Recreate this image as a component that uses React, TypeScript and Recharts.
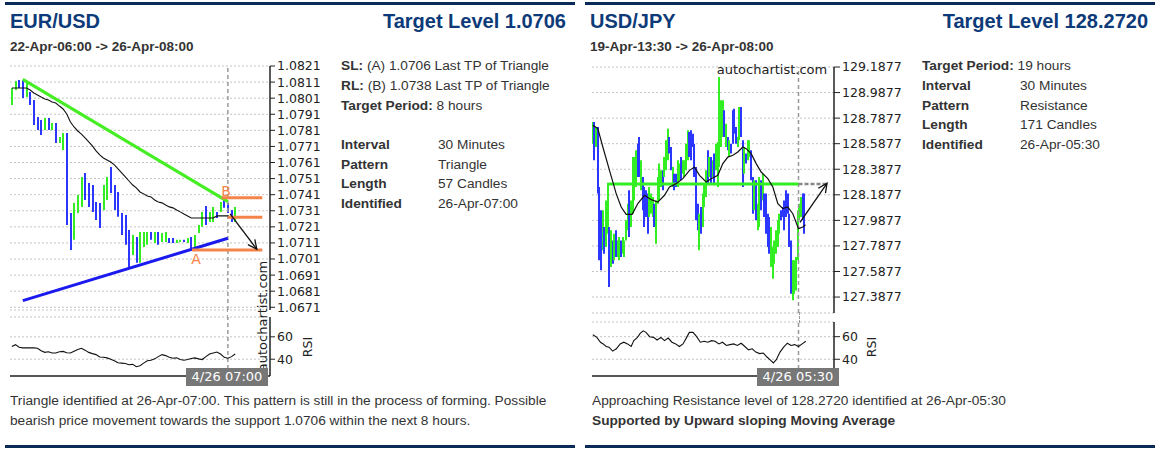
import React from "react";
import {
  ComposedChart,
  LineChart,
  Bar,
  Line,
  XAxis,
  YAxis,
  CartesianGrid,
  ReferenceLine,
  ReferenceDot,
  Cell,
} from "recharts";

// ---------- EUR/USD (30 min) ----------
const eurHigh = [
  1.08073, 1.08117, 1.08123, 1.08123, 1.08117, 1.08048, 1.07999, 1.07893, 1.07874, 1.07887,
  1.07887, 1.07856, 1.07856, 1.07769, 1.07794, 1.07794, 1.07296, 1.07359, 1.07408, 1.0752,
  1.07545, 1.07483, 1.0747, 1.07365, 1.07359, 1.0747, 1.0752, 1.07582, 1.0747, 1.07427,
  1.07296, 1.07284, 1.07191, 1.0716, 1.07147, 1.07178, 1.07178, 1.07178, 1.07178, 1.07178,
  1.07178, 1.07172, 1.07178, 1.07141, 1.07141, 1.07129, 1.07129, 1.07129, 1.07141, 1.07147,
  1.0716, 1.07222, 1.07303, 1.0734, 1.07303, 1.07334, 1.07303, 1.07365, 1.07396, 1.07359,
  1.07315, 1.07334,
];
const eurLow = [
  1.07968, 1.08061, 1.08073, 1.08011, 1.08017, 1.07968, 1.07843, 1.07812, 1.07781, 1.07812,
  1.07812, 1.07812, 1.07731, 1.07731, 1.07688, 1.07222, 1.07066, 1.07129, 1.07296, 1.07334,
  1.07377, 1.07334, 1.07303, 1.07253, 1.07203, 1.07315, 1.07377, 1.07421, 1.07315, 1.07272,
  1.0716, 1.07098, 1.06961, 1.07035, 1.06986, 1.06986, 1.07085, 1.07098, 1.07129, 1.0711,
  1.07098, 1.07116, 1.07116, 1.0711, 1.0711, 1.0711, 1.07116, 1.07116, 1.0711, 1.07079,
  1.07079, 1.07172, 1.0721, 1.07222, 1.0724, 1.0724, 1.07265, 1.07303, 1.07328, 1.07296,
  1.0724, 1.0724,
];
// g = up candle, b = down candle
const eurDir =
  "ggbbgbbbbg" + "bgbggbbggg" + "bbbbbggbbb" + "bbbgbgggbg" + "bggbbggbgb" + "gggbggbgbb" + "bg";
const eurMa = [
  1.08073, 1.08073, 1.08073, 1.08073, 1.08073, 1.08061, 1.08042, 1.0803, 1.08017, 1.08005,
  1.07999, 1.07986, 1.0798, 1.07961, 1.07943, 1.07912, 1.07862, 1.07831, 1.07806, 1.07787,
  1.07763, 1.07738, 1.07713, 1.07682, 1.07657, 1.07638, 1.07626, 1.07613, 1.07595, 1.0757,
  1.07545, 1.0752, 1.07495, 1.0747, 1.07452, 1.07427, 1.07415, 1.07402, 1.07396, 1.07377,
  1.07365, 1.07359, 1.07346, 1.07334, 1.07328, 1.07315, 1.07303, 1.0729, 1.07278, 1.07265,
  1.07265, 1.07265, 1.07265, 1.07265, 1.07265, 1.07265, 1.07278, 1.07278, 1.07278, 1.07278,
  1.07265, 1.07265,
];
const eurRsi = [
  51.3, 53, 50.7, 50.1, 50.1, 50.1, 50.1, 49.8, 47.5, 46.1,
  46.7, 45.5, 45.5, 46.7, 47, 45.8, 45.5, 47.2, 48.7, 49.8,
  48.1, 46.1, 45, 44.1, 42, 41.7, 41.2, 40, 38.6, 36.8,
  36.5, 36.2, 35.1, 35.4, 33.3, 34.2, 36.5, 38.6, 39.1, 40.3,
  42.3, 44.1, 43.2, 41.7, 40.9, 41.2, 39.7, 39.1, 39.7, 40.6,
  41.2, 40.3, 39.7, 42.3, 44.6, 45.5, 46.4, 44.6, 41.7, 40.9,
  42.3, 44.6,
];
const eurTicks = [
  1.0821, 1.0811, 1.0801, 1.0791, 1.0781, 1.0771, 1.0761, 1.0751,
  1.0741, 1.0731, 1.0721, 1.0711, 1.0701, 1.0691, 1.0681, 1.0671,
];
const eurUpper = [{ x: 3, y: 1.08127 }, { x: 59, y: 1.07367 }];
const eurLower = [{ x: 3, y: 1.06751 }, { x: 59, y: 1.07139 }];
const eurLevelB = [{ x: 57.3, y: 1.07391 }, { x: 68.4, y: 1.07391 }];
const eurLevelMid = [{ x: 59, y: 1.0727 }, { x: 68.4, y: 1.0727 }];
const eurLevelA = [{ x: 49.2, y: 1.07066 }, { x: 68.4, y: 1.07066 }];
const eurForecast = [{ x: 59.6, y: 1.0729 }, { x: 66.9, y: 1.07071 }];
const eurPointB = { x: 58.5, y: 1.07433 };
const eurPointA = { x: 50.3, y: 1.0701 };
const eurIdentifiedAt = 59;

// ---------- USD/JPY (30 min) ----------
const jpyHigh = [
  128.757, 128.757, 128.718, 128.718, 128.249, 128.066, 128.066, 127.936, 128.144, 128.283,
  127.936, 127.91, 127.831, 127.884, 127.91, 127.831, 127.857, 127.831, 127.857, 127.831,
  127.988, 128.118, 128.223, 128.144, 128.484, 128.484, 128.536, 128.588, 128.64, 128.458,
  128.327, 128.249, 128.223, 128.197, 128.249, 128.197, 128.171, 128.118, 128.144, 128.327,
  128.432, 128.379, 128.379, 128.484, 128.614, 128.705, 128.64, 128.562, 128.406, 128.353,
  128.353, 128.458, 128.432, 128.484, 128.458, 128.458, 128.588, 128.692, 128.679, 128.692,
  128.666, 128.588, 128.406, 128.118, 128.04, 128.092, 128.197, 128.275, 128.379, 128.536,
  128.484, 128.484, 128.458, 128.51, 128.588, 128.601, 129.11, 128.927, 128.927, 128.849,
  128.744, 128.64, 128.614, 128.588, 128.849, 128.862, 128.718, 128.64, 128.875, 128.875,
  128.614, 128.562, 128.51, 128.614, 128.614, 128.536, 128.327, 128.301, 128.301, 128.118,
  128.327, 128.301, 128.353, 128.197, 128.197, 128.04, 128.014, 127.936, 127.779, 127.831,
  127.91, 127.988, 128.04, 128.066, 128.092, 128.144, 128.223, 128.197, 128.04, 127.831,
  127.675, 127.675, 127.701, 128.066, 128.118, 128.171, 128.197, 128.197,
];
const jpyLow = [
  128.588, 128.458, 128.562, 128.197, 127.675, 127.597, 127.753, 127.727, 127.779, 127.884,
  127.466, 127.623, 127.649, 127.675, 127.701, 127.701, 127.675, 127.701, 127.727, 127.701,
  127.831, 127.91, 127.857, 127.936, 128.04, 128.144, 128.249, 128.327, 128.327, 128.223,
  128.066, 127.936, 128.014, 127.884, 128.014, 128.04, 128.014, 127.936, 127.805, 128.118,
  128.144, 128.249, 128.223, 128.327, 128.379, 128.458, 128.51, 128.379, 128.249, 128.223,
  128.249, 128.249, 128.301, 128.301, 128.353, 128.327, 128.379, 128.458, 128.484, 128.458,
  128.562, 128.327, 127.988, 127.91, 127.753, 127.884, 127.936, 128.092, 128.171, 128.275,
  128.327, 128.275, 128.327, 128.275, 128.379, 128.249, 128.406, 128.562, 128.64, 128.64,
  128.562, 128.536, 128.484, 128.51, 128.588, 128.666, 128.588, 128.562, 128.614, 128.64,
  128.249, 128.353, 128.432, 128.458, 128.484, 128.301, 128.04, 128.066, 127.988, 127.91,
  127.936, 128.066, 128.144, 128.014, 127.884, 127.779, 127.727, 127.623, 127.531, 127.649,
  127.727, 127.779, 127.884, 127.988, 128.014, 127.91, 128.014, 128.04, 127.779, 127.414,
  127.362, 127.414, 127.44, 127.675, 127.988, 128.014, 127.988, 127.884,
];
const jpyDir =
  "gbgbbbgbgg" + "bgbgbggbgg" + "ggbggggbbg" + "bbbbgggbgg" + "ggbgggbbgb" + "bggbggggbb" +
  "bbbbgbgggb" + "gbgbgggggb" + "gbgbbbbggb" + "bgbggbbgbg" + "gbgbbbbggg" + "gggbbbbbbb" + "ggggggbb";
const jpyMaIdx = [
  0, 3, 6, 10, 14, 17, 20, 23.6, 27, 31, 35, 39, 43, 46, 50, 54, 58, 61, 64, 68,
  71, 75, 78, 81, 84, 87, 90, 92, 95, 98, 101, 105, 108, 111, 114, 117, 120, 123.4, 126, 127.6,
];
const jpyMa = [
  128.731, 128.706, 128.562, 128.379, 128.197, 128.092, 128.035, 128.035, 128.119, 128.184,
  128.15, 128.131, 128.184, 128.249, 128.275, 128.314, 128.379, 128.405, 128.34, 128.288,
  128.314, 128.34, 128.432, 128.483, 128.497, 128.523, 128.562, 128.549, 128.51, 128.432,
  128.366, 128.314, 128.249, 128.119, 128.08, 128.092, 128.04, 127.923, 127.936, 127.954,
];
const jpyRsiIdx = [
  0, 2.4, 4.6, 6.2, 8, 9.7, 11.9, 14.1, 16.4, 18.6, 20.8, 23, 24.6, 26.8, 28.4, 30.2, 31.9, 34.1,
  36.4, 38.6, 40.8, 43, 45.2, 47.5, 49.7, 51.9, 54.1, 56.3, 57.9, 60.1, 62.3, 64.5, 66.8, 69, 71.2,
  73.4, 75.6, 77.8, 80.1, 82.3, 84.5, 86.7, 89, 91.2, 93.4, 95.6, 97.8, 100.1, 102.3, 104.5, 106.7,
  108.3, 110.1, 112.3, 114.5, 116.7, 118.9, 121.2, 123.4, 125.6, 127.8,
];
const jpyRsi = [
  61.7, 59.4, 55.1, 53.6, 51.3, 50.7, 47.2, 49.3, 53.6, 55.1, 53.6, 51.3, 56.5, 59.4, 62.9, 65.2,
  63.8, 60, 59.4, 57.1, 59.4, 56.5, 58.8, 55.1, 53.6, 51.3, 53.6, 59.4, 63.8, 63.8, 60, 55.1, 55.9,
  55.1, 56.5, 55.9, 53.6, 55.1, 52.2, 53, 53.6, 52.2, 54.2, 51.3, 48.4, 49.3, 46.4, 45, 45.5, 42,
  39.1, 36.8, 39.7, 46.4, 50.7, 54.2, 52.2, 53, 51.3, 53.6, 55.9,
];
const jpyTicks = [
  129.1877, 128.9877, 128.7877, 128.5877, 128.3877, 128.1877, 127.9877, 127.7877, 127.5877, 127.3877,
];
const jpyResistance = [{ x: 9.6, y: 128.272 }, { x: 123.4, y: 128.272 }];
const jpyProjection = [{ x: 123.4, y: 128.272 }, { x: 140.5, y: 128.272 }];
const jpyForecast = [{ x: 124.3, y: 127.972 }, { x: 140.5, y: 128.278 }];
const jpyIdentifiedAt = 123.4;

const rsiTicks = [60, 40];

const eurInfo = [
  ["SL:", "(A) 1.0706 Last TP of Triangle"],
  ["RL:", "(B) 1.0738 Last TP of Triangle"],
  ["Target Period:", "8 hours"],
];
const eurTable = [
  ["Interval", "30 Minutes"],
  ["Pattern", "Triangle"],
  ["Length", "57 Candles"],
  ["Identified", "26-Apr-07:00"],
];
const jpyInfo = [["Target Period:", "19 hours"]];
const jpyTable = [
  ["Interval", "30 Minutes"],
  ["Pattern", "Resistance"],
  ["Length", "171 Candles"],
  ["Identified", "26-Apr-05:30"],
];

const GREEN = "#33ee22";
const BLUE = "#2b36ff";
const ORANGE = "#f5844a";
const NAVY = "#0d3a78";
const TEXT = "#333";
const BODY_SIZE = 13.7;
const AXIS_FONT = { fontSize: 12.5, fill: "#222", fontFamily: "DejaVu Sans" };

const eurCandles = eurHigh.map((h, i) => ({
  i,
  range: [eurLow[i], h],
  up: eurDir[i] === "g",
  ma: eurMa[i],
}));
const eurRsiData = eurRsi.map((v, i) => ({ i, v }));
const jpyCandles = jpyHigh.map((h, i) => ({
  i,
  range: [jpyLow[i], h],
  up: jpyDir[i] === "g",
}));
const jpyMaData = jpyMaIdx.map((i, k) => ({ i, ma: jpyMa[k] }));
const jpyRsiData = jpyRsiIdx.map((i, k) => ({ i, v: jpyRsi[k] }));

// high-low candle drawn as a 2px stroke snapped to whole pixels
function CandleShape(p: any) {
  const top = Math.min(p.y, p.y + p.height);
  const h = Math.max(1, Math.abs(p.height));
  const cx = Math.round(p.x + p.width / 2);
  return <line x1={cx} x2={cx} y1={top} y2={top + h} stroke={p.fill} strokeWidth={2} />;
}

function ArrowShape(props: any) {
  const { x1, y1, x2, y2 } = props;
  const ang = Math.atan2(y2 - y1, x2 - x1);
  const len = 10;
  const ax = x2 - len * Math.cos(ang - 0.45);
  const ay = y2 - len * Math.sin(ang - 0.45);
  const bx = x2 - len * Math.cos(ang + 0.45);
  const by = y2 - len * Math.sin(ang + 0.45);
  return (
    <g>
      <line x1={x1} y1={y1} x2={x2} y2={y2} stroke="#111" strokeWidth={1.3} />
      <polyline points={`${ax},${ay} ${x2},${y2} ${bx},${by}`} fill="none" stroke="#111" strokeWidth={1.3} />
    </g>
  );
}

const letter = (txt: string) => (p: any) => (
  <text x={p.cx} y={p.cy} fill={ORANGE} fontSize={14} fontFamily="DejaVu Sans" textAnchor="middle" dominantBaseline="central">
    {txt}
  </text>
);

const abs = (left: number, top: number, extra: React.CSSProperties = {}): React.CSSProperties => ({
  position: "absolute",
  left,
  top,
  ...extra,
});

function InfoBlock({ left, top, col, head, table, gap }: any) {
  const line: React.CSSProperties = { height: 19.7, lineHeight: "19.7px", whiteSpace: "nowrap" };
  return (
    <div style={abs(left, top, { fontSize: BODY_SIZE, color: TEXT })}>
      {head.map(([k, v]: string[]) => (
        <div key={k} style={line}>
          <b>{k}</b> {v}
        </div>
      ))}
      {gap && <div style={line} />}
      {table.map(([k, v]: string[]) => (
        <div key={k} style={{ ...line, position: "relative" }}>
          <b>{k}</b>
          <span style={{ position: "absolute", left: col }}>{v}</span>
        </div>
      ))}
    </div>
  );
}

function DateBox({ left, text }: { left: number; text: string }) {
  return (
    <div
      style={abs(left, 368, {
        width: 82,
        height: 18,
        background: "#777",
        color: "#fff",
        fontFamily: "DejaVu Sans",
        fontSize: 13,
        lineHeight: "18px",
        textAlign: "center",
      })}
    >
      {text}
    </div>
  );
}

function RotLabel({ cx, cy, text, size }: any) {
  return (
    <div
      style={abs(cx - 70, cy - 9, {
        width: 140,
        height: 18,
        lineHeight: "18px",
        textAlign: "center",
        transform: "rotate(-90deg)",
        fontFamily: "DejaVu Sans",
        fontSize: size,
        color: "#222",
      })}
    >
      {text}
    </div>
  );
}

export default function App() {
  return (
    <div
      style={{
        position: "absolute",
        left: 0,
        top: 0,
        width: 1158,
        height: 449,
        background: "#fff",
        fontFamily: "'Liberation Sans', Arial, sans-serif",
        overflow: "hidden",
      }}
    >
      {/* frame bars */}
      <div style={abs(5, 2, { width: 570, height: 3, background: "#0a2a57" })} />
      <div style={abs(585, 2, { width: 570, height: 3, background: "#0a2a57" })} />
      <div style={abs(5, 445, { width: 570, height: 3, background: "#0a2a57" })} />
      <div style={abs(585, 445, { width: 570, height: 3, background: "#0a2a57" })} />

      {/* ---------- left panel ---------- */}
      <div style={abs(10, 11, { fontSize: 20, lineHeight: "20px", fontWeight: "bold", color: NAVY })}>EUR/USD</div>
      <div style={abs(300, 11, { width: 266, textAlign: "right", fontSize: 20, lineHeight: "20px", fontWeight: "bold", color: NAVY })}>
        Target Level 1.0706
      </div>
      <div style={abs(10, 40, { fontSize: 13.5, lineHeight: "13px", fontWeight: "bold", color: TEXT })}>
        22-Apr-06:00 -&gt; 26-Apr-08:00
      </div>

      <div style={abs(0, 0)}>
        <ComposedChart width={340} height={320} data={eurCandles} margin={{ top: 66, right: 10, bottom: 10, left: 10 }}>
          <CartesianGrid vertical={false} stroke="#c4c4c4" strokeDasharray="2 2" />
          <XAxis dataKey="i" type="number" domain={[-0.5, 70.5]} hide />
          <YAxis
            orientation="right"
            width={60}
            domain={[1.06693, 1.0821]}
            allowDataOverflow
            ticks={eurTicks}
            interval={0}
            tickFormatter={(v: number) => v.toFixed(4)}
            tick={AXIS_FONT}
            tickSize={5}
            axisLine={{ stroke: "#222", strokeWidth: 1.5 }}
            tickLine={{ stroke: "#222" }}
          />
          <ReferenceLine x={eurIdentifiedAt} stroke="#999" strokeDasharray="4 3" strokeWidth={1.5} />
          <Bar dataKey="range" barSize={2} shape={CandleShape} isAnimationActive={false}>
            {eurCandles.map((d) => (
              <Cell key={d.i} fill={d.up ? GREEN : BLUE} />
            ))}
          </Bar>
          <Line dataKey="ma" stroke="#111" strokeWidth={1.1} dot={false} isAnimationActive={false} />
          <ReferenceLine segment={eurUpper} stroke="#44ee22" strokeWidth={3} />
          <ReferenceLine segment={eurLower} stroke="#1a1aee" strokeWidth={3} />
          <ReferenceLine segment={eurLevelB} stroke={ORANGE} strokeWidth={3} />
          <ReferenceLine segment={eurLevelMid} stroke={ORANGE} strokeWidth={3} />
          <ReferenceLine segment={eurLevelA} stroke={ORANGE} strokeWidth={3} />
          <ReferenceLine segment={eurForecast} shape={ArrowShape} />
          <ReferenceDot x={eurPointB.x} y={eurPointB.y} r={1} shape={letter("B")} />
          <ReferenceDot x={eurPointA.x} y={eurPointA.y} r={1} shape={letter("A")} />
        </ComposedChart>
      </div>
      <div style={abs(227, 309, { height: 9, borderLeft: "1.5px dashed #999" })} />
      <div style={abs(0, 300)}>
        <LineChart width={340} height={100} data={eurRsiData} margin={{ top: 17, right: 10, bottom: 23, left: 10 }}>
          <CartesianGrid vertical={false} stroke="#c4c4c4" strokeDasharray="2 2" />
          <XAxis dataKey="i" type="number" domain={[-0.5, 70.5]} height={1} tick={false} tickLine={false} axisLine={{ stroke: "#555", strokeWidth: 2 }} />
          <YAxis
            orientation="right"
            width={60}
            domain={[25, 77.7]}
            allowDataOverflow
            ticks={rsiTicks}
            interval={0}
            tick={AXIS_FONT}
            tickSize={5}
            axisLine={{ stroke: "#222", strokeWidth: 1.5 }}
            tickLine={{ stroke: "#222" }}
          />
          <ReferenceLine x={eurIdentifiedAt} stroke="#999" strokeDasharray="4 3" strokeWidth={1.5} />
          <Line dataKey="v" stroke="#111" strokeWidth={1.1} dot={false} isAnimationActive={false} />
        </LineChart>
      </div>
      <RotLabel cx={263} cy={316} text="autochartist.com" size={13} />
      <RotLabel cx={308} cy={347} text="RSI" size={12.5} />
      <DateBox left={186} text="4/26 07:00" />

      <InfoBlock left={341} top={56.3} col={97} head={eurInfo} table={eurTable} gap />
      <div style={abs(10, 390.5, { width: 565, fontSize: BODY_SIZE, lineHeight: "20px", color: TEXT, whiteSpace: "nowrap" })}>
        Triangle identified at 26-Apr-07:00. This pattern is still in the process of forming. Possible
        <br />
        bearish price movement towards the support 1.0706 within the next 8 hours.
      </div>

      {/* ---------- right panel ---------- */}
      <div style={abs(590, 11, { fontSize: 20, lineHeight: "20px", fontWeight: "bold", color: NAVY })}>USD/JPY</div>
      <div style={abs(860, 11, { width: 288, textAlign: "right", fontSize: 20, lineHeight: "20px", fontWeight: "bold", color: NAVY })}>
        Target Level 128.2720
      </div>
      <div style={abs(590, 40, { fontSize: 13.5, lineHeight: "13px", fontWeight: "bold", color: TEXT })}>
        19-Apr-13:30 -&gt; 26-Apr-08:00
      </div>

      <div style={abs(580, 0)}>
        <ComposedChart width={340} height={323} data={jpyCandles} margin={{ top: 67, right: 16, bottom: 10, left: 12 }}>
          <CartesianGrid vertical={false} stroke="#c4c4c4" strokeDasharray="2 2" />
          <XAxis dataKey="i" type="number" domain={[-0.5, 144.7]} hide />
          <YAxis
            orientation="right"
            width={70}
            domain={[127.263, 129.1877]}
            allowDataOverflow
            ticks={jpyTicks}
            interval={0}
            tickFormatter={(v: number) => v.toFixed(4)}
            tick={AXIS_FONT}
            tickSize={6}
            axisLine={{ stroke: "#222", strokeWidth: 1.5 }}
            tickLine={{ stroke: "#222" }}
          />
          <ReferenceLine x={jpyIdentifiedAt} stroke="#999" strokeDasharray="4 3" strokeWidth={1.5} />
          <Bar dataKey="range" barSize={2} shape={CandleShape} isAnimationActive={false}>
            {jpyCandles.map((d) => (
              <Cell key={d.i} fill={d.up ? GREEN : BLUE} />
            ))}
          </Bar>
          <ReferenceLine segment={jpyResistance} stroke="#33ee22" strokeWidth={3} />
          <ReferenceLine segment={jpyProjection} stroke="#888" strokeWidth={2.5} strokeDasharray="4 2" />
          <Line data={jpyMaData} dataKey="ma" stroke="#111" strokeWidth={1.2} dot={false} isAnimationActive={false} />
          <ReferenceLine segment={jpyForecast} shape={ArrowShape} />
        </ComposedChart>
      </div>
      <div style={abs(798.5, 312, { height: 11, borderLeft: "1.5px dashed #999" })} />
      <div style={abs(580, 300)}>
        <LineChart width={340} height={100} data={jpyRsiData} margin={{ top: 22, right: 16, bottom: 23, left: 12 }}>
          <CartesianGrid vertical={false} stroke="#c4c4c4" strokeDasharray="2 2" />
          <XAxis dataKey="i" type="number" domain={[-0.5, 144.7]} height={1} tick={false} tickLine={false} axisLine={{ stroke: "#555", strokeWidth: 2 }} />
          <YAxis
            orientation="right"
            width={70}
            domain={[25.2, 73]}
            allowDataOverflow
            ticks={rsiTicks}
            interval={0}
            tick={AXIS_FONT}
            tickSize={6}
            axisLine={{ stroke: "#222", strokeWidth: 1.5 }}
            tickLine={{ stroke: "#222" }}
          />
          <ReferenceLine x={jpyIdentifiedAt} stroke="#999" strokeDasharray="4 3" strokeWidth={1.5} />
          <Line dataKey="v" stroke="#111" strokeWidth={1.1} dot={false} isAnimationActive={false} />
        </LineChart>
      </div>
      <div style={abs(712, 61, { width: 120, textAlign: "center", fontFamily: "DejaVu Sans", fontSize: 13, lineHeight: "18px", color: "#222" })}>
        autochartist.com
      </div>
      <RotLabel cx={872} cy={347} text="RSI" size={12.5} />
      <DateBox left={757} text="4/26 05:30" />

      <InfoBlock left={922} top={56.3} col={98} head={jpyInfo} table={jpyTable} gap={false} />
      <div style={abs(592, 390.5, { width: 560, fontSize: BODY_SIZE, lineHeight: "20px", color: TEXT, whiteSpace: "nowrap" })}>
        Approaching Resistance level of 128.2720 identified at 26-Apr-05:30
        <div style={{ fontWeight: "bold" }}>Supported by Upward sloping Moving Average</div>
      </div>
    </div>
  );
}
